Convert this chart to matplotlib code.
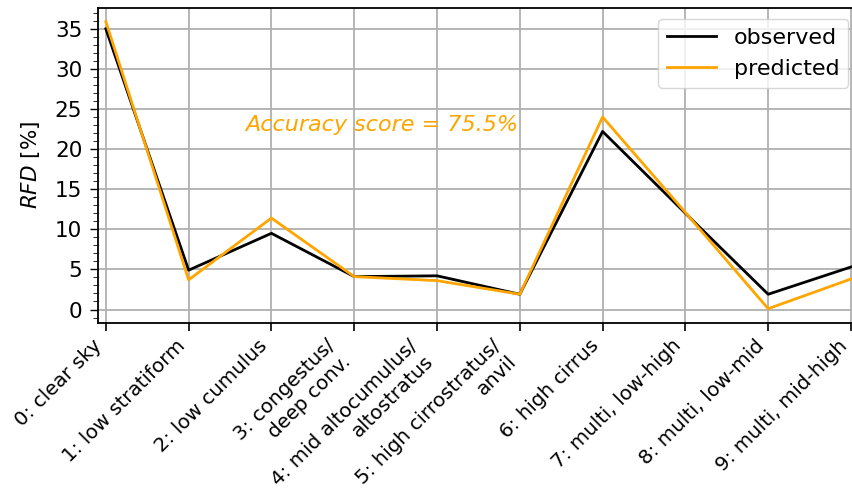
import matplotlib
matplotlib.use("Agg")
import matplotlib.pyplot as plt
import numpy as np
from matplotlib.ticker import MultipleLocator

categories = ["0: clear sky", "1: low stratiform", "2: low cumulus",
              "3: congestus/\ndeep conv.", "4: mid altocumulus/\naltostratus",
              "5: high cirrostratus/\nanvil", "6: high cirrus",
              "7: multi, low-high", "8: multi, low-mid", "9: multi, mid-high"]
observed = [35.0, 4.9, 9.5, 4.1, 4.2, 1.9, 22.2, 12.0, 1.9, 5.3]
predicted = [35.9, 3.7, 11.4, 4.1, 3.6, 1.9, 24.0, 12.1, 0.1, 3.8]
accuracy_text = "Accuracy score = 75.5%"

fig = plt.figure(figsize=(8.52, 4.96), dpi=100)
ax = fig.add_axes([0.1145, 0.349, 0.894, 0.635])
x = np.arange(len(categories))
ax.plot(x, observed, color="black", lw=2, label="observed", zorder=3)
ax.plot(x, predicted, color="orange", lw=2, label="predicted", zorder=3)

ax.set_xlim(-0.1, 9.1)
ax.set_ylim(-1.67, 37.6)
ax.set_xticks(x)
ax.set_xticklabels(categories, rotation=45, ha="right", fontsize=14.3)
ax.yaxis.set_major_locator(MultipleLocator(5))
ax.yaxis.set_minor_locator(MultipleLocator(1))
ax.tick_params(axis="y", labelsize=15.5, length=6, width=1, pad=5)
ax.tick_params(axis="y", which="minor", length=3.5)
ax.tick_params(axis="x", length=6, width=1.2)
ax.grid(True, color="#b0b0b0", lw=1.3)
ax.set_axisbelow(True)
ax.spines["right"].set_visible(False)
for s in ["left", "top", "bottom"]:
    ax.spines[s].set_linewidth(1.3)
ax.set_ylabel(r"$RFD$ [%]", fontsize=15.5)
ax.yaxis.set_label_coords(-0.073, 0.5)
ax.text(3.33, 23.0, accuracy_text, color="orange", fontsize=16, style="italic",
        ha="center", va="center")
ax.legend(loc="upper right", fontsize=16, handlelength=2.2, borderaxespad=0.5)

fig.savefig("out.png", dpi=100)
